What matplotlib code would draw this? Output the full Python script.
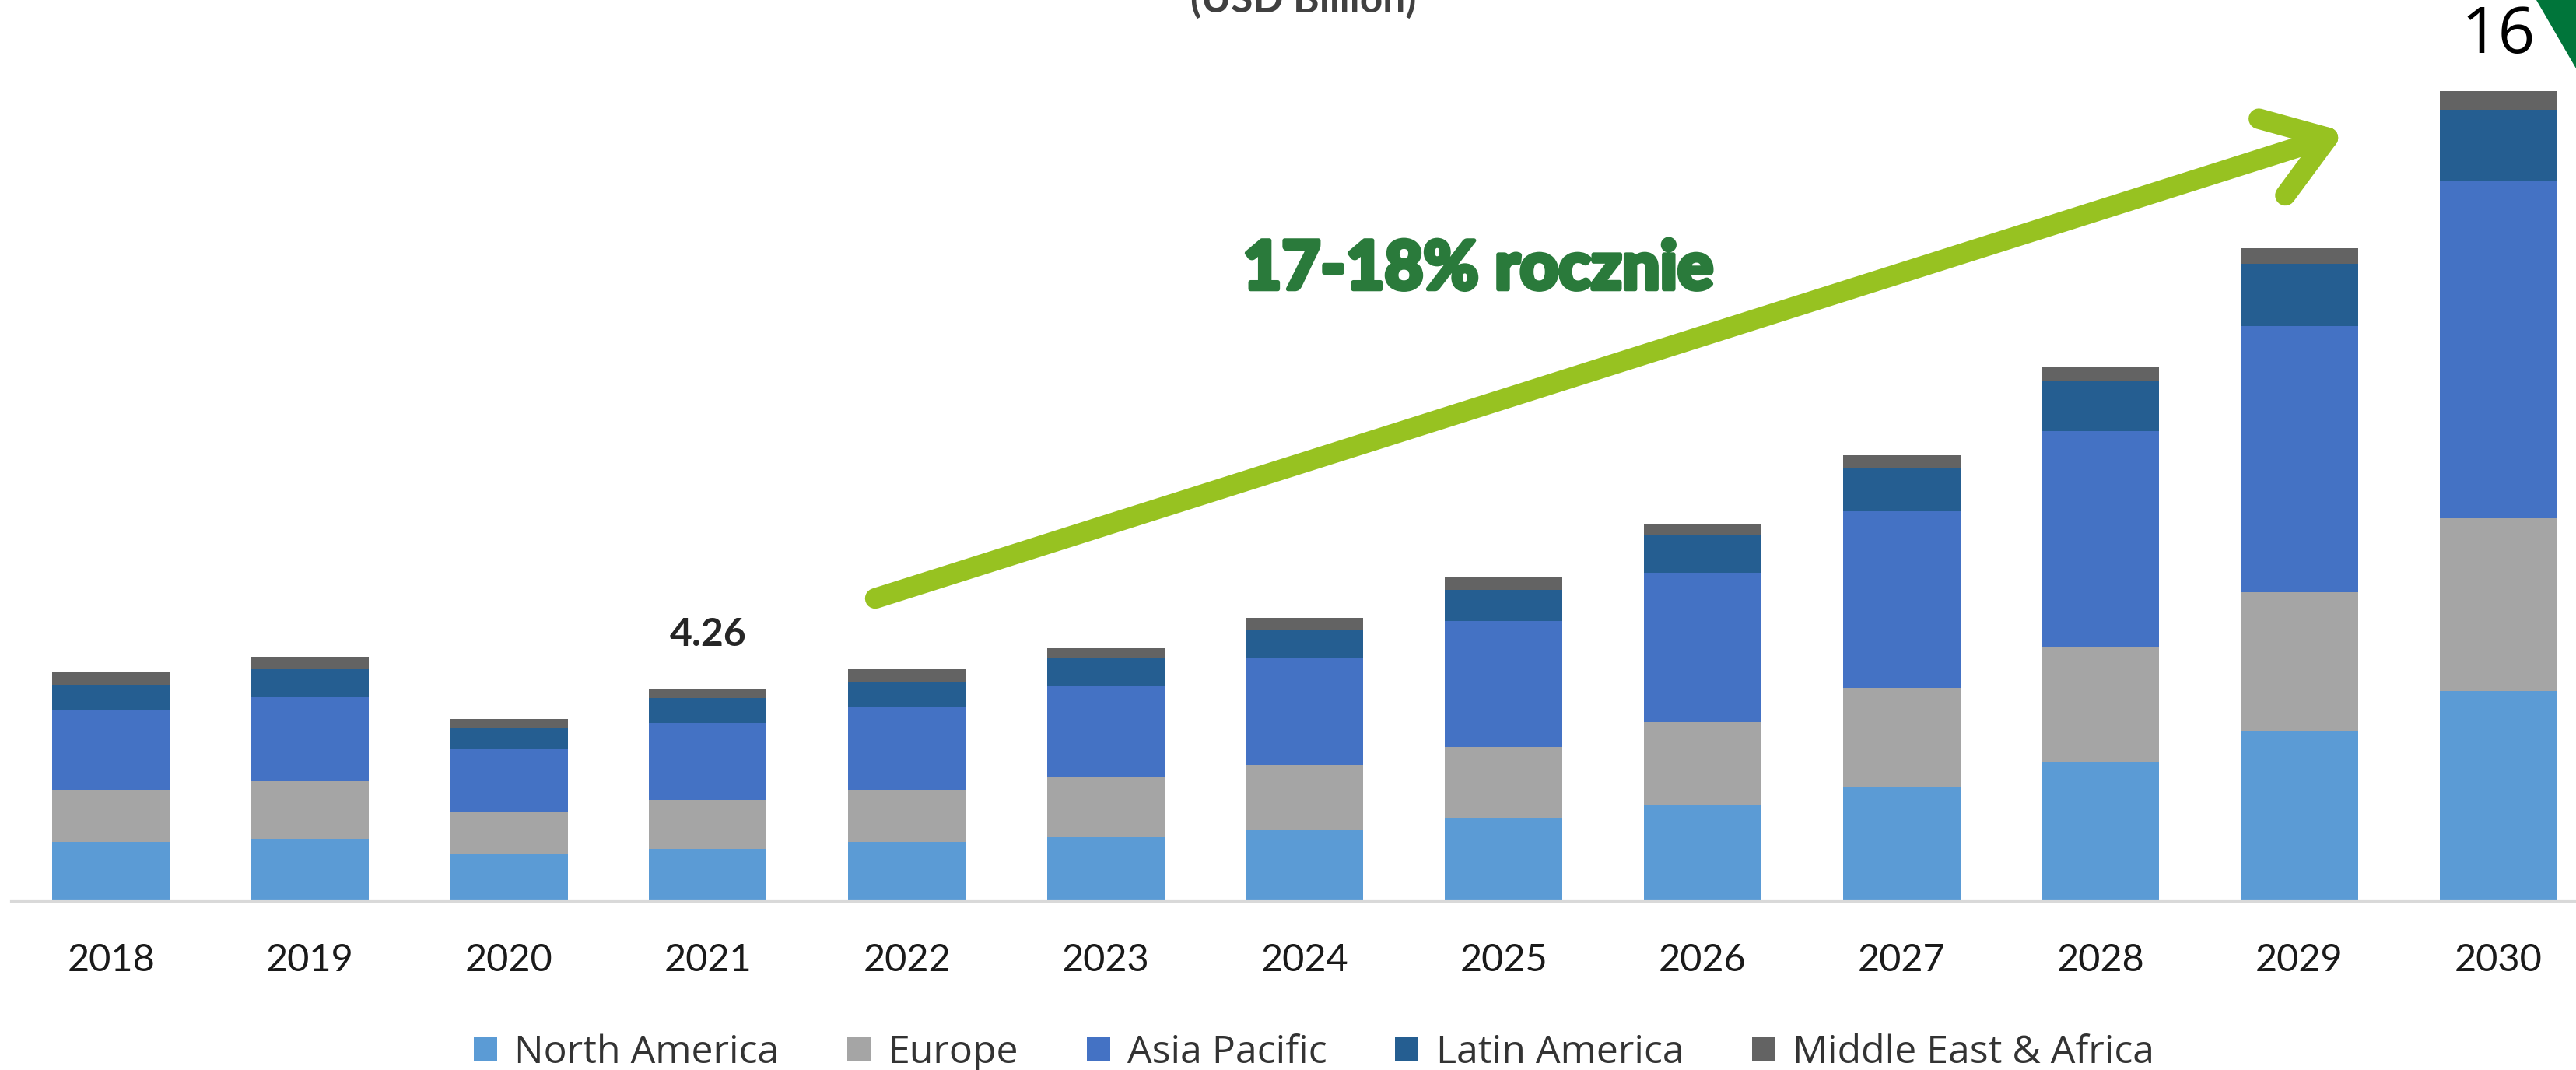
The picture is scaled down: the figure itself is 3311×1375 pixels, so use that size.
import numpy as np
import matplotlib
matplotlib.use('Agg')
import matplotlib.pyplot as plt
import matplotlib.patheffects as pe
from matplotlib.lines import Line2D
from matplotlib.patches import Polygon

#%% data (USD Billion)
years = ['2018', '2019', '2020', '2021', '2022', '2023', '2024',
         '2025', '2026', '2027', '2028', '2029', '2030']
north_america = [1.18, 1.24, 0.93, 1.05, 1.18, 1.30, 1.41, 1.66, 1.92, 2.29, 2.79, 3.40, 4.21]
europe        = [1.05, 1.17, 0.86, 0.98, 1.04, 1.17, 1.31, 1.43, 1.67, 1.98, 2.29, 2.79, 3.46]
asia_pacific  = [1.60, 1.67, 1.25, 1.54, 1.67, 1.85, 2.16, 2.52, 2.98, 3.53, 4.33, 5.33, 6.76]
latin_america = [0.50, 0.56, 0.42, 0.50, 0.50, 0.56, 0.56, 0.62, 0.75, 0.87, 0.99, 1.24, 1.41]
middle_east   = [0.25, 0.25, 0.19, 0.19, 0.25, 0.19, 0.23, 0.25, 0.24, 0.25, 0.31, 0.31, 0.37]

series = [('North America', north_america, '#5B9BD5'),
          ('Europe', europe, '#A5A5A5'),
          ('Asia Pacific', asia_pacific, '#4472C4'),
          ('Latin America', latin_america, '#255E91'),
          ('Middle East & Africa', middle_east, '#636363')]

labels = {3: '4.26', 12: '16'}   # index -> label text
growth_text = '17-18% rocznie'

#%% figure
W, H = 3311, 1375
fig = plt.figure(figsize=(W / 100, H / 100), dpi=100)
ax = fig.add_axes([15 / W, 217 / H, 3324 / W, 1158 / H])

x = np.arange(len(years))
bottom = np.zeros(len(years))
for name, vals, col in series:
    ax.bar(x, vals, 0.59, bottom=bottom, color=col, label=name, zorder=2)
    bottom += np.array(vals)

ax.set_xlim(-0.5, 12.5)
ax.set_ylim(0, 18.04)
for s in ['top', 'right', 'left']:
    ax.spines[s].set_visible(False)
ax.spines['bottom'].set_color('#D9D9D9')
ax.spines['bottom'].set_linewidth(3)
ax.set_yticks([])
ax.set_xticks(x)
ax.set_xticklabels(years, fontfamily='Lato', fontsize=35, color='#1a1a1a')
ax.tick_params(axis='x', length=0, pad=39)

# data labels
ax.annotate(labels[3], (3, bottom[3]), xytext=(0, 50), textcoords='offset points',
            ha='center', va='center', fontfamily='Lato', fontweight='bold',
            fontsize=36, color='#262626')
ax.annotate(labels[12], (12, bottom[12]), xytext=(0, 51), textcoords='offset points',
            ha='center', va='center', fontfamily='Open Sans',
            fontsize=60, color='black')

# title (cut off at the top)
fig.text(1675 / W, 1 - 16 / H, '(USD Billion)', ha='center', va='baseline',
         fontfamily='Lato', fontweight='bold', fontsize=37, color='#404040')

# green corner triangle
fig.add_artist(Polygon([(3260 / W, 1), (1, 1), (1, 1 - 88 / H)],
                       closed=True, transform=fig.transFigure,
                       color='#00753A', lw=0))

# growth arrow (figure pixel coords)
start = np.array([1125, H - 769])
tip = np.array([2992, H - 177])
d = (start - tip) / np.linalg.norm(start - tip)
arm_len = 92
arms = []
for ang in (np.radians(36), np.radians(-33)):
    rot = np.array([[np.cos(ang), -np.sin(ang)], [np.sin(ang), np.cos(ang)]])
    arms.append(tip + arm_len * rot @ d)
acol = '#97C221'
for p0, p1 in [(start, tip), (arms[0], tip), (arms[1], tip)]:
    fig.add_artist(Line2D([p0[0] / W, p1[0] / W], [p0[1] / H, p1[1] / H],
                          transform=fig.transFigure, color=acol, lw=19,
                          solid_capstyle='round'))

fig.text(1900 / W, 1 - 347 / H, growth_text, ha='center', va='center',
         fontfamily='Lato', fontweight='black', fontsize=62, color='#2A7A3B',
         path_effects=[pe.withStroke(linewidth=4, foreground='#2A7A3B')])

# legend
leg = fig.legend(loc='center', bbox_to_anchor=(1689 / W, 22 / H), ncol=5,
                 frameon=False, prop={'family': 'Open Sans', 'size': 36},
                 handlelength=0.6, handleheight=0.6, handletextpad=0.45,
                 columnspacing=1.75, labelcolor='#333333')

fig.savefig('out.png', dpi=100)
